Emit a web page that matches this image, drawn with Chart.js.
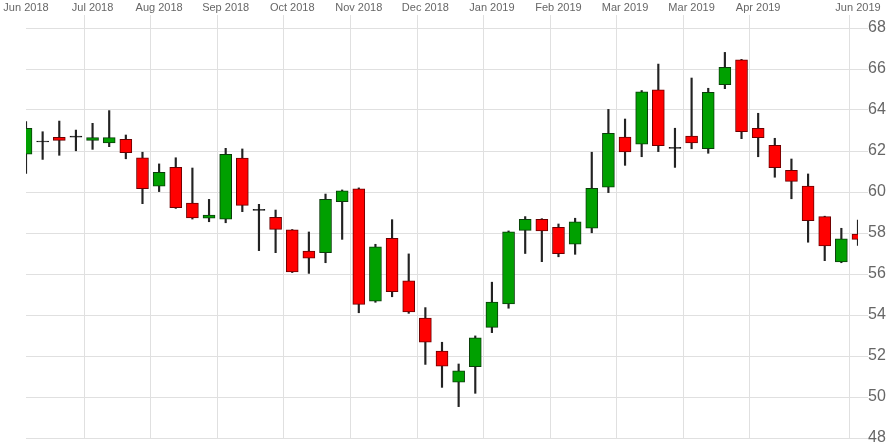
<!DOCTYPE html>
<html>
<head>
<meta charset="utf-8">
<script src="https://cdn.jsdelivr.net/npm/chart.js@4/dist/chart.umd.min.js"></script>
<style>
  html, body { margin: 0; padding: 0; background: #fff; }
  #wrap { width: 892px; height: 448px; }
</style>
</head>
<body>
<div id="wrap"><canvas id="grafico"></canvas></div>
<script>
// semanas (categorias)
const semanas = [
  '2018-06-04', '2018-06-11', '2018-06-18', '2018-06-25', '2018-07-02', '2018-07-09',
  '2018-07-16', '2018-07-23', '2018-07-30', '2018-08-06', '2018-08-13', '2018-08-20',
  '2018-08-27', '2018-09-03', '2018-09-10', '2018-09-17', '2018-09-24', '2018-10-01',
  '2018-10-08', '2018-10-15', '2018-10-22', '2018-10-29', '2018-11-05', '2018-11-12',
  '2018-11-19', '2018-11-26', '2018-12-03', '2018-12-10', '2018-12-17', '2018-12-24',
  '2018-12-31', '2019-01-07', '2019-01-14', '2019-01-21', '2019-01-28', '2019-02-04',
  '2019-02-11', '2019-02-18', '2019-02-25', '2019-03-04', '2019-03-11', '2019-03-18',
  '2019-03-25', '2019-04-01', '2019-04-08', '2019-04-15', '2019-04-22', '2019-04-29',
  '2019-05-06', '2019-05-13', '2019-05-20'
];

const abertura = [
  61.84, 62.44, 62.67, 62.68, 62.52, 62.39, 62.57, 61.67, 60.28, 61.20,
  59.46, 58.72, 58.67, 61.66, 59.15, 58.77, 58.15, 57.12, 57.04, 59.53,
  60.15, 54.68, 57.74, 55.67, 53.85, 52.24, 50.72, 51.48, 53.40, 54.54,
  58.13, 58.67, 58.28, 57.45, 58.23, 60.23, 62.68, 62.33, 64.98, 62.13,
  62.73, 62.11, 65.24, 66.45, 63.11, 62.28, 61.06, 60.29, 58.80, 56.59,
  57.95
];
const maxima = [
  63.43, 62.94, 63.46, 63.02, 63.35, 63.97, 62.78, 61.94, 61.37, 61.67,
  61.17, 59.64, 62.13, 62.10, 59.40, 59.12, 58.17, 58.05, 59.90, 60.10,
  60.20, 57.45, 58.65, 56.98, 54.36, 52.67, 51.61, 52.98, 55.60, 58.10,
  58.80, 58.70, 58.44, 58.72, 61.94, 64.03, 63.56, 64.95, 66.24, 63.11,
  65.56, 65.06, 66.81, 66.47, 63.84, 62.62, 61.61, 60.88, 58.82, 58.23,
  58.63
];
const minimas = [
  60.91, 61.59, 61.79, 62.01, 62.08, 62.21, 61.62, 59.43, 60.02, 59.20,
  58.68, 58.55, 58.50, 59.04, 57.14, 57.04, 56.07, 56.03, 56.55, 57.69,
  54.11, 54.62, 54.89, 54.08, 51.59, 50.47, 49.53, 50.18, 53.14, 54.33,
  57.00, 56.60, 56.84, 56.96, 58.01, 59.97, 61.30, 61.72, 61.97, 61.20,
  62.11, 61.89, 65.04, 62.60, 61.72, 60.72, 59.67, 57.55, 56.65, 56.55,
  57.40
];
const fechamento = [
  63.11, 62.49, 62.52, 62.73, 62.65, 62.65, 61.92, 60.16, 60.96, 59.23,
  58.73, 58.88, 61.84, 59.35, 59.10, 58.18, 56.10, 56.77, 59.64, 60.06,
  54.52, 57.33, 55.14, 54.15, 52.68, 51.50, 51.28, 52.89, 54.63, 58.06,
  58.67, 58.10, 56.99, 58.55, 60.18, 62.86, 61.95, 64.89, 62.26, 62.18,
  62.40, 64.86, 66.08, 62.94, 62.65, 61.19, 60.52, 58.60, 57.37, 57.72,
  57.69
];

// rótulos do eixo de cima
const posRotulos = [0, 4, 8, 12, 16, 20, 24, 28, 32, 36, 40, 44, 50];
const rotulos = ['Jun 2018', 'Jul 2018', 'Aug 2018', 'Sep 2018', 'Oct 2018', 'Nov 2018',
  'Dec 2018', 'Jan 2019', 'Feb 2019', 'Mar 2019', 'Mar 2019', 'Apr 2019', 'Jun 2019'];

const corpos = abertura.map((a, i) => [a, fechamento[i]]);
const pavios = minimas.map((m, i) => [m, maxima[i]]);
const alta = abertura.map((a, i) => fechamento[i] >= a);
const doji = abertura.map((a, i) => Math.abs(fechamento[i] - a) < 0.06);

const ctx = document.getElementById('grafico').getContext('2d');

new Chart(ctx, {
  type: 'bar',
  data: {
    labels: semanas,
    datasets: [
      {
        label: 'Pavio',
        data: pavios,
        backgroundColor: '#222',
        barThickness: 1.5,
        grouped: false,
        order: 2
      },
      {
        label: 'Corpo',
        data: corpos,
        backgroundColor: alta.map((v, i) => doji[i] ? '#111' : (v ? '#00a000' : '#ff0000')),
        borderColor: alta.map((v, i) => doji[i] ? '#111' : (v ? '#0b3d0b' : '#6b0000')),
        borderWidth: 1,
        borderSkipped: false,
        barThickness: 12,
        grouped: false,
        order: 1
      }
    ]
  },
  options: {
    responsive: true,
    maintainAspectRatio: false,
    animation: false,
    layout: { padding: { left: 26, top: 0, right: 0, bottom: 10 } },
    plugins: {
      legend: { display: false },
      tooltip: { enabled: false }
    },
    scales: {
      x: {
        position: 'top',
        offset: false,
        border: { display: false },
        grid: {
          color: c => posRotulos.includes(c.index) ? '#e0e0e0' : 'rgba(0,0,0,0)',
          tickLength: 13
        },
        ticks: {
          autoSkip: false,
          maxRotation: 0,
          padding: 0,
          color: '#666',
          font: { family: 'Liberation Sans, Arial', size: 11 },
          callback: (v, i) => {
            const k = posRotulos.indexOf(i);
            return k >= 0 ? rotulos[k] : '';
          }
        },
        afterFit: s => { s.height = 28; }
      },
      y: {
        position: 'right',
        min: 48,
        max: 68,
        border: { display: false },
        grid: { color: '#e0e0e0', tickLength: 10 },
        ticks: {
          stepSize: 2,
          includeBounds: false,
          padding: 0,
          color: '#666',
          font: { family: 'Liberation Sans, Arial', size: 16 }
        },
        afterFit: s => { s.width = 34; }
      }
    }
  }
});
</script>
</body>
</html>
